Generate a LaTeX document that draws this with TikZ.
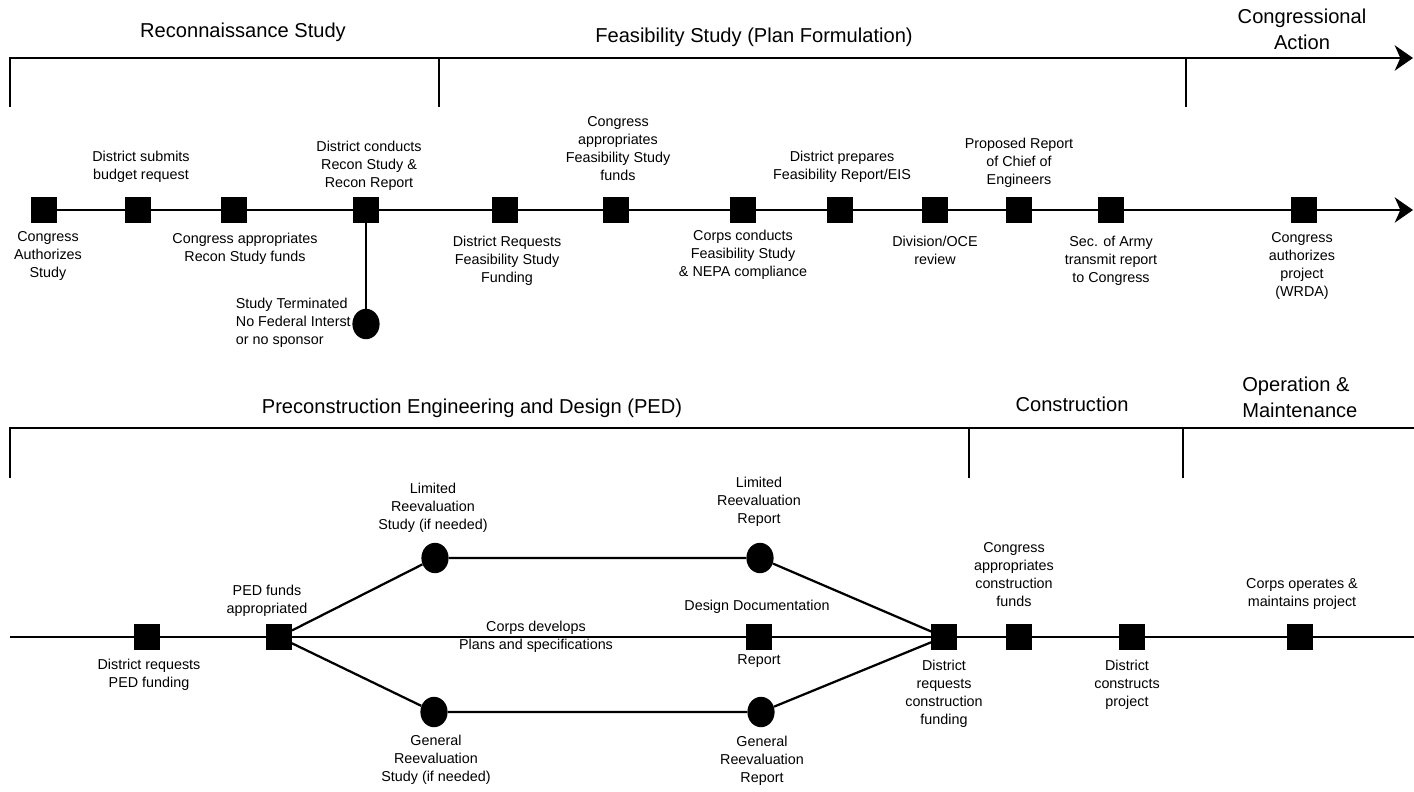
\documentclass[tikz,border=0pt]{standalone}
\usepackage{fontspec}
\setmainfont{Liberation Sans}
\usetikzlibrary{arrows.meta, shapes.geometric}

\begin{document}
\begin{tikzpicture}[
  x=0.025cm, y=-0.025cm,
  bracket/.style={line width=1.7pt},
  tick/.style={line width=1.7pt},
  timeline/.style={line width=1.5pt},
  branch/.style={line width=1.6pt},
  bigtip/.style={-{Stealth[length=13pt, width=18pt, inset=4pt]}},
  event/.style={rectangle, fill=black, inner sep=0pt, minimum size=0.63cm},
  check/.style={ellipse, fill=black, inner sep=0pt, minimum width=0.68cm, minimum height=0.76cm},
  phase/.style={font=\fontsize{14.3}{18.5}\selectfont, align=center, inner sep=0pt},
  desc/.style={font=\fontsize{10.2}{12.8}\selectfont, align=center, inner sep=0pt},
]
\useasboundingbox (0,0) rectangle (1414,791);

% ===== Top: study phases =====
\node[phase] (recon) at (243,32) {Reconnaissance Study};
\node[phase] (feas) at (754,37) {Feasibility Study (Plan Formulation)};
\node[phase] (cong) at (1302,29) {Congressional\\Action};

% Bracket with arrow
\draw[bracket, bigtip] (10,107) |- (1413,58);
\draw[tick] (439,58) -- (439,107);
\draw[tick] (1186,58) -- (1186,107);

% Events
\node[event] (s1) at (44,210) {};
\node[event] (s2) at (138,210) {};
\node[event] (s3) at (234,210) {};
\node[event] (s4) at (366,210) {};
\node[event] (s5) at (505,210) {};
\node[event] (s6) at (616,210) {};
\node[event] (s7) at (743,210) {};
\node[event] (s8) at (840,210) {};
\node[event] (s9) at (935,210) {};
\node[event] (s10) at (1019,210) {};
\node[event] (s11) at (1111,210) {};
\node[event] (s12) at (1304,210) {};
\coordinate (t1end) at (1413,210);
\node[check] (stop) at (366,324) {};

% Timeline
\draw[timeline] (s1) -- (s2) -- (s3) -- (s4) -- (s5) -- (s6) -- (s7)
  -- (s8) -- (s9) -- (s10) -- (s11) -- (s12);
\draw[timeline, bigtip] (s12) -- (t1end);
\draw[line width=1pt] (s4) -- (stop);

% Labels
\node[desc] at (48,256) {Congress\\Authorizes\\Study};
\node[desc] at (141,167) {District submits\\budget request};
\node[desc] at (245,249) {Congress appropriates\\Recon Study funds};
\node[desc] at (369,166) {District conducts\\Recon Study \&\\Recon Report};
\node[desc, align=left, anchor=east] at (351,323) {Study Terminated\\No Federal Interst\\or no sponsor};
\node[desc] at (507,261) {District Requests\\Feasibility Study\\Funding};
\node[desc] at (618,149) {Congress\\appropriates\\Feasibility Study\\funds};
\node[desc] at (743,255) {Corps conducts\\Feasibility Study\\\& NEPA compliance};
\node[desc] at (842,167) {District prepares\\Feasibility Report/EIS};
\node[desc] at (935,250) {Division/OCE\\review};
\node[desc] at (1019,163) {Proposed Report\\of Chief of\\Engineers};
\node[desc] at (1111,261) {Sec. of Army\\transmit report\\to Congress};
\node[desc] at (1302,266) {Congress\\authorizes\\project\\(WRDA)};

% ===== Bottom: design, construction, O&M =====
\node[phase] (ped) at (472,408) {Preconstruction Engineering and Design (PED)};
\node[phase] (constr) at (1072,404) {Construction};
\node[phase, align=left, anchor=west] (om) at (1242,397) {Operation \&\\Maintenance};

% Bracket
\draw[bracket] (10,478) |- (1414,428);
\draw[tick] (969,428) -- (969,478);
\draw[tick] (1183,428) -- (1183,478);

% Events
\coordinate (t2start) at (10,637);
\coordinate (t2end) at (1414,637);
\node[event] (p1) at (147,637) {};
\node[event] (p2) at (279,637) {};
\node[check] (lim1) at (435,558) {};
\node[check] (gen1) at (434,712) {};
\node[check] (lim2) at (760,558) {};
\node[event] (dd) at (759,637) {};
\node[check] (gen2) at (761,712) {};
\node[event] (p3) at (944,637) {};
\node[event] (p4) at (1019,637) {};
\node[event] (p5) at (1132,637) {};
\node[event] (p6) at (1300,637) {};

% Timeline and branches
\draw[timeline] (t2start) -- (p1) -- (p2) -- (dd) -- (p3) -- (p4) -- (p5) -- (p6) -- (t2end);
\draw[branch] (p2) -- (lim1) -- (lim2) -- (p3);
\draw[branch] (p2) -- (gen1) -- (gen2) -- (p3);

% Labels
\node[desc] at (149,675) {District requests\\PED funding};
\node[desc] at (267,601) {PED funds\\appropriated};
\node[desc] at (433,508) {Limited\\Reevaluation\\Study (if needed)};
\node[desc] at (436,760) {General\\Reevaluation\\Study (if needed)};
\node[desc] at (536,637) {Corps develops\\Plans and specifications};
\node[desc] at (759,502) {Limited\\Reevaluation\\Report};
\node[desc] at (757,607) {Design Documentation};
\node[desc] at (759,661) {Report};
\node[desc] at (762,761) {General\\Reevaluation\\Report};
\node[desc] at (944,694) {District\\requests\\construction\\funding};
\node[desc] at (1014,575) {Congress\\appropriates\\construction\\funds};
\node[desc] at (1127,685) {District\\constructs\\project};
\node[desc] at (1302,594) {Corps operates \&\\maintains project};

\end{tikzpicture}
\end{document}
